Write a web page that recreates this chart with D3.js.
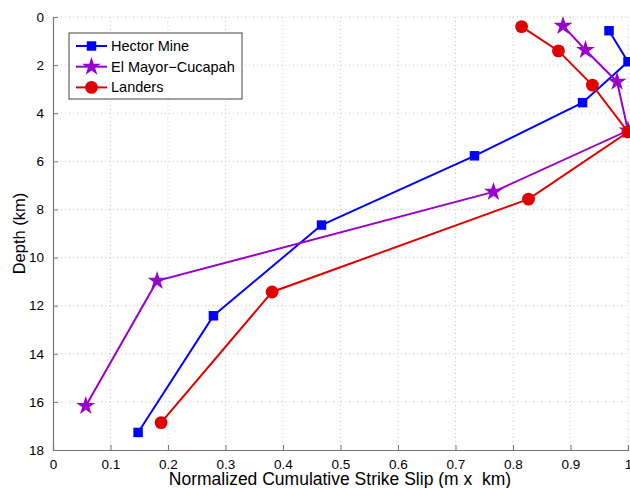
<html>
<head>
<meta charset="utf-8">
<script src="https://cdn.jsdelivr.net/npm/d3@7"></script>
<style>
  body { margin: 0; background: #fff; }
  text { font-family: "Liberation Sans", Arial, sans-serif; }
</style>
</head>
<body>
<div id="chart"></div>
<script>
// data: slip (normalized) vs depth (km)
var hectorSlip  = [0.967, 1.0, 0.921, 0.733, 0.467, 0.279, 0.148];
var hectorDepth = [0.57, 1.86, 3.56, 5.77, 8.65, 12.42, 17.27];
var elMayorSlip  = [0.887, 0.926, 0.981, 1.0, 0.766, 0.181, 0.057];
var elMayorDepth = [0.37, 1.37, 2.69, 4.72, 7.27, 10.97, 16.17];
var landersSlip  = [0.815, 0.879, 0.938, 1.0, 0.827, 0.381, 0.188];
var landersDepth = [0.40, 1.41, 2.83, 4.78, 7.57, 11.43, 16.86];
var seriesNames = ["Hector Mine", "El Mayor\u2212Cucapah", "Landers"];
var xTicks = [0, 0.1, 0.2, 0.3, 0.4, 0.5, 0.6, 0.7, 0.8, 0.9, 1];
var yTicks = [0, 2, 4, 6, 8, 10, 12, 14, 16, 18];

var width = 630, height = 488;
var margin = { top: 17, bottom: 38, left: 53, right: 2 };

var svg = d3.select("#chart").append("svg")
  .attr("width", width).attr("height", height);

var xScale = d3.scaleLinear().domain([0, 1])
  .range([margin.left, width - margin.right]);
var yScale = d3.scaleLinear().domain([0, 18])
  .range([margin.top, height - margin.bottom]);

// grid
svg.append("g").selectAll("line").data(xTicks.slice(1)).enter().append("line")
  .attr("x1", function(d) { return xScale(d); }).attr("x2", function(d) { return xScale(d); })
  .attr("y1", yScale(0)).attr("y2", yScale(18))
  .attr("stroke", "#c8c8c8").attr("stroke-width", 1).attr("stroke-dasharray", "1,3");
svg.append("g").selectAll("line").data(yTicks.slice(0, -1)).enter().append("line")
  .attr("y1", function(d) { return yScale(d); }).attr("y2", function(d) { return yScale(d); })
  .attr("x1", xScale(0)).attr("x2", xScale(1))
  .attr("stroke", "#c8c8c8").attr("stroke-width", 1).attr("stroke-dasharray", "1,3");

// axes (ticks inward, matlab style)
var axisx = d3.axisBottom(xScale).tickValues(xTicks).tickSize(-5).tickPadding(9)
  .tickFormat(function(d) { return d === 0 || d === 1 ? d3.format("d")(d) : d3.format(".1f")(d); });
var axisy = d3.axisLeft(yScale).tickValues(yTicks).tickSize(-5).tickPadding(9);

var gx = svg.append("g")
  .attr("transform", "translate(0," + yScale(18) + ")")
  .call(axisx);
var gy = svg.append("g")
  .attr("transform", "translate(" + xScale(0) + ",0)")
  .call(axisy);
[gx, gy].forEach(function(g) {
  g.select(".domain").attr("stroke", "#777").attr("stroke-width", 1.2);
  g.selectAll(".tick line").attr("stroke", "#777");
  g.selectAll(".tick text").attr("fill", "#000").attr("font-size", "13.5px")
    .style("font-family", "Liberation Sans, Arial, sans-serif");
});

svg.append("text")
  .attr("x", 340).attr("y", 485)
  .attr("text-anchor", "middle").attr("font-size", "17.5px")
  .attr("xml:space", "preserve")
  .text("Normalized Cumulative Strike Slip (m x  km)");
svg.append("text")
  .attr("transform", "translate(25," + (yScale(9)) + ") rotate(-90)")
  .attr("text-anchor", "middle").attr("font-size", "16.5px")
  .text("Depth (km)");

// series
var series = [
  { name: seriesNames[0], x: hectorSlip, y: hectorDepth, color: "#0000ff", marker: "square" },
  { name: seriesNames[1], x: elMayorSlip, y: elMayorDepth, color: "#9900cc", marker: "star" },
  { name: seriesNames[2], x: landersSlip, y: landersDepth, color: "#e00000", marker: "circle" }
];
var symbols = {
  square: d3.symbol().type(d3.symbolSquare).size(90),
  star: d3.symbol().type(d3.symbolStar).size(110),
  circle: d3.symbol().type(d3.symbolCircle).size(130)
};

var line = d3.line()
  .x(function(d) { return xScale(d[0]); })
  .y(function(d) { return yScale(d[1]); });

series.forEach(function(s) {
  var pts = s.x.map(function(v, i) { return [v, s.y[i]]; });
  svg.append("path").datum(pts)
    .attr("fill", "none").attr("stroke", s.color).attr("stroke-width", 2)
    .attr("d", line);
  svg.append("g").selectAll("path").data(pts).enter().append("path")
    .attr("d", symbols[s.marker]())
    .attr("transform", function(d) { return "translate(" + xScale(d[0]) + "," + yScale(d[1]) + ")"; })
    .attr("fill", s.color);
});

// legend
var legend = svg.append("g").attr("transform", "translate(69,33)");
legend.append("rect").attr("width", 173).attr("height", 66)
  .attr("fill", "#fff").attr("stroke", "#444").attr("stroke-width", 1);
series.forEach(function(s, i) {
  var yy = 13 + i * 20.7;
  legend.append("line").attr("x1", 7).attr("x2", 38).attr("y1", yy).attr("y2", yy)
    .attr("stroke", s.color).attr("stroke-width", 2);
  legend.append("path").attr("d", symbols[s.marker]())
    .attr("transform", "translate(22.5," + yy + ")").attr("fill", s.color);
  legend.append("text").attr("x", 42).attr("y", yy + 5)
    .attr("font-size", "14.5px").text(s.name);
});
</script>
</body>
</html>
